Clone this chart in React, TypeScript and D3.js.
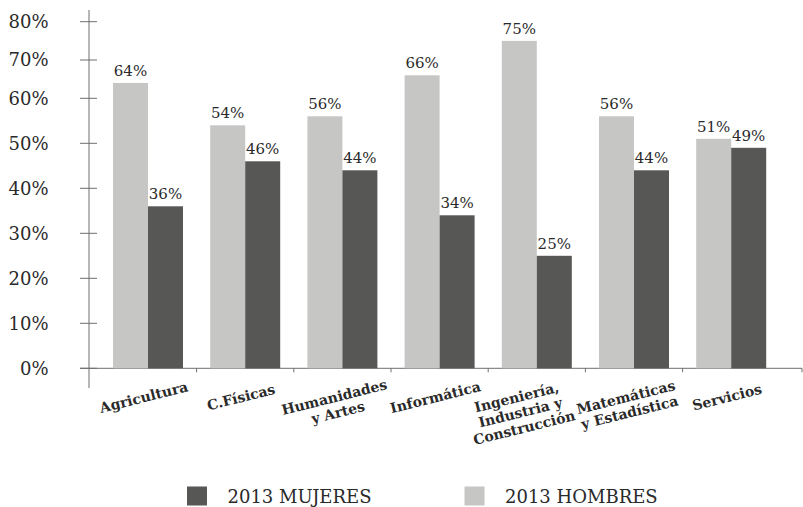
import React from "react";
import * as d3 from "d3";

const categories: string[][] = [
  ["Agricultura"],
  ["C.Físicas"],
  ["Humanidades", "y Artes"],
  ["Informática"],
  ["Ingeniería,", "Industria y", "Construcción"],
  ["Matemáticas", "y Estadística"],
  ["Servicios"],
];
const hombres = [64, 54, 56, 66, 75, 56, 51];
const mujeres = [36, 46, 44, 34, 25, 44, 49];
const yTicks = [0, 10, 20, 30, 40, 50, 60, 70, 80];
const legendItems = ["2013 MUJERES", "2013 HOMBRES"];

const W = 803;
const H = 507;
const LIGHT = "#c6c6c5";
const DARK = "#575756";
const TEXT = "#2a2a2a";
const AXIS = "#6f6f6f";
const FONT = "'DejaVu Serif', serif";

export default function App() {
  const axisX = 89;
  const y = d3.scaleLinear().domain([0, 60, 80]).range([368.3, 98.3, 21.7]);
  const x = d3
    .scaleBand<number>()
    .domain(d3.range(categories.length))
    .range([99.4, 779.8])
    .paddingInner(0)
    .paddingOuter(0);
  const bw = 35;
  const y0 = y(0);

  return (
    <svg
      width={W}
      height={H}
      style={{ position: "absolute", left: 0, top: 0, display: "block", background: "#fff" }}
    >
      {/* y axis */}
      <line x1={axisX} x2={axisX} y1={10} y2={388} stroke={AXIS} strokeWidth={1} />
      {yTicks.map((t) => (
        <g key={t}>
          <line x1={80} x2={97} y1={y(t)} y2={y(t)} stroke={AXIS} strokeWidth={1} />
          <text
            x={48.5}
            y={y(t)}
            dy="0.36em"
            textAnchor="end"
            fontFamily={FONT}
            fontSize={18}
            fill={TEXT}
          >
            {t}%
          </text>
        </g>
      ))}
      {/* x axis */}
      <line x1={80} x2={802} y1={y0} y2={y0} stroke={AXIS} strokeWidth={1} />
      {d3.range(1, categories.length + 1).map((i) => {
        const bx = i < categories.length ? (x(i) as number) : 802;
        return <line key={i} x1={bx} x2={bx} y1={y0} y2={y0 + 4} stroke={AXIS} strokeWidth={1} />;
      })}
      {/* bars */}
      {categories.map((c, i) => {
        const cx = (x(i) as number) + x.bandwidth() / 2;
        const n = c.length - 1;
        const lx = cx - 3 - 4 * n * n;
        return (
          <g key={i}>
            <rect x={cx - bw} y={y(hombres[i])} width={bw} height={y0 - y(hombres[i])} fill={LIGHT} />
            <rect x={cx} y={y(mujeres[i])} width={bw} height={y0 - y(mujeres[i])} fill={DARK} />
            <text
              x={cx - bw / 2}
              y={y(hombres[i]) - 7}
              textAnchor="middle"
              fontFamily={FONT}
              fontSize={15}
              fill={TEXT}
            >
              {hombres[i]}%
            </text>
            <text
              x={cx + bw / 2}
              y={y(mujeres[i]) - 7}
              textAnchor="middle"
              fontFamily={FONT}
              fontSize={15}
              fill={TEXT}
            >
              {mujeres[i]}%
            </text>
            <text
              transform={`translate(${lx},${402}) rotate(-14)`}
              textAnchor="middle"
              fontFamily={FONT}
              fontWeight="bold"
              fontSize={14}
              fill={TEXT}
            >
              {c.map((line, k) => (
                <tspan key={k} x={0} dy={k === 0 ? 0 : "1.12em"}>
                  {line}
                </tspan>
              ))}
            </text>
          </g>
        );
      })}
      {/* legend */}
      {legendItems.map((l, i) => {
        const lx = 187 + i * 277.5;
        return (
          <g key={l}>
            <rect x={lx} y={486.5} width={20} height={19} fill={i === 0 ? DARK : LIGHT} />
            <text x={lx + 40.5} y={502.5} fontFamily={FONT} fontSize={18} fill={TEXT}>
              {l}
            </text>
          </g>
        );
      })}
    </svg>
  );
}
